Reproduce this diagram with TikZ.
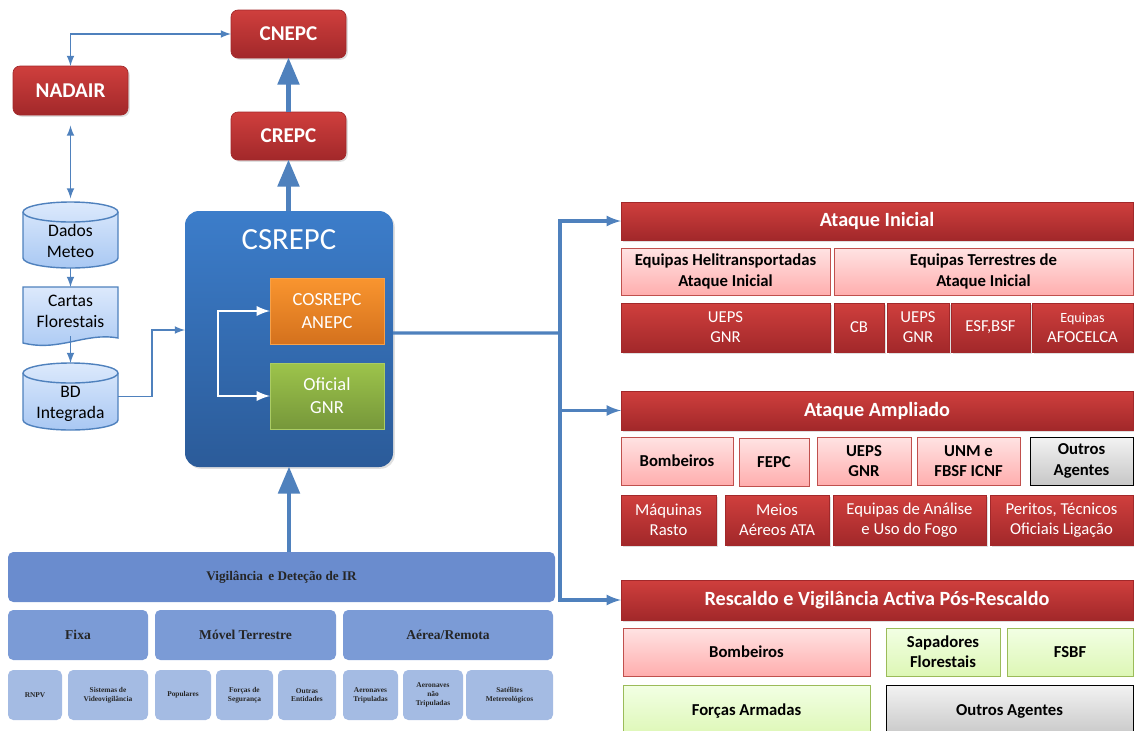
\documentclass[tikz,border=0pt]{standalone}
\usepackage{fontspec}
\setmainfont{Carlito}
\newfontfamily\serifbx{Liberation Serif}
\usepackage{tikz}
\usetikzlibrary{arrows,shadows}

\definecolor{rtop}{HTML}{CF3F3D}
\definecolor{rbot}{HTML}{A2282A}
\definecolor{ptop}{HTML}{FFE3E3}
\definecolor{pbot}{HTML}{FFAEAE}
\definecolor{pline}{HTML}{C0504D}
\definecolor{gtop}{HTML}{F2FFE4}
\definecolor{gbot}{HTML}{DDF7B5}
\definecolor{gline}{HTML}{9BBB59}
\definecolor{linkblue}{HTML}{4F81BD}
\definecolor{cstop}{HTML}{3C7DCA}
\definecolor{csbot}{HTML}{2B5B99}
\definecolor{otop}{HTML}{F9952F}
\definecolor{obot}{HTML}{D4711D}
\definecolor{oline}{HTML}{F6A14A}
\definecolor{ftop}{HTML}{9DC44B}
\definecolor{fbot}{HTML}{76973A}
\definecolor{fline}{HTML}{ABCC64}
\definecolor{dtop}{HTML}{DCE9FC}
\definecolor{dbot}{HTML}{A9C8F3}
\definecolor{vigA}{HTML}{6A8CCE}
\definecolor{vigB}{HTML}{7B9BD6}
\definecolor{vigC}{HTML}{A4BBE3}

% box given by its corners (pixels): style, name, x1, y1, x2, y2, text
\newcommand{\blk}[7]{\node[#1, minimum width={(#5-#3)*0.02cm}, minimum height={(#6-#4)*0.02cm}] (#2) at ({(#3+#5)/2},{(#4+#6)/2}) {#7};}
% database drum in the left column: top, bottom
\newcommand{\drum}[2]{%
  \draw[dbase] (23,#1+10) -- (23,#2-10) arc[start angle=180, end angle=0, x radius=47.5, y radius=10]
    -- (118,#1+10) arc[start angle=0, end angle=-180, x radius=47.5, y radius=10] -- cycle;
  \draw[linkblue, thick] (23,#1+10) arc[start angle=180, end angle=0, x radius=47.5, y radius=10];}

\tikzset{
  box/.style={inner sep=1pt, outer sep=0pt, align=center},
  redbox/.style={box, top color=rtop, bottom color=rbot, draw=rbot, text=white,
    drop shadow={opacity=0.25, shadow xshift=1pt, shadow yshift=-1pt}},
  toporg/.style={redbox, rounded corners=4pt, font=\bfseries\fontsize{12}{14}\selectfont},
  headbox/.style={redbox, font=\bfseries\fontsize{11.5}{13}\selectfont},
  subred/.style={redbox, font=\fontsize{9.5}{11.5}\selectfont},
  pinkbox/.style={box, top color=ptop, bottom color=pbot, draw=pline, text=black,
    font=\bfseries\fontsize{9.5}{11.5}\selectfont},
  greenbox/.style={box, top color=gtop, bottom color=gbot, draw=gline, text=black,
    font=\bfseries\fontsize{9.5}{11.5}\selectfont},
  graybox/.style={box, top color=black!5, bottom color=black!22, draw=black, text=black,
    font=\bfseries\fontsize{9.5}{11.5}\selectfont},
  dbase/.style={draw=linkblue, thick, top color=dtop, bottom color=dbot},
  dtext/.style={align=center, font=\fontsize{10}{12}\selectfont},
  vigbox/.style={box, rounded corners=3pt, text=black!85,
    font=\serifbx\bfseries\fontsize{4.2}{5}\selectfont},
  link/.style={draw=linkblue, line width=1pt, -latex},
  biglink/.style={draw=linkblue, line width=2.6pt, -triangle 45},
  trunk/.style={draw=linkblue, line width=1.8pt}
}

\begin{document}
\begin{tikzpicture}[x=0.02cm, y=-0.02cm]
	\useasboundingbox (0,0) rectangle (1134,731);

	% command chain
	\blk{toporg}{cnepc}{231}{10}{346}{58}{CNEPC}
	\blk{toporg}{nadair}{13}{66}{128}{115}{NADAIR}
	\blk{toporg}{crepc}{231}{112}{346}{160}{CREPC}

	% data sources
	\blk{box}{dados}{23}{202}{118}{268}{}
	\drum{202}{268}
	\node[dtext] (dadostxt) at (70.5,241) {Dados\\Meteo};
	\blk{box}{cartas}{23}{287}{118}{343}{}
	\draw[dbase] (cartas.north west) -- (cartas.north east) -- ([yshift=0.1cm]cartas.south east)
	  .. controls (85,332) and (60,352) .. (cartas.south west) -- cycle;
	\node[dtext] (cartastxt) at (70.5,311) {Cartas\\Florestais};
	\blk{box}{bd}{23}{363}{118}{430}{}
	\drum{363}{430}
	\node[dtext] (bdtxt) at (70.5,404) {BD\\Integrada};

	% CSREPC
	\blk{box, top color=cstop, bottom color=csbot, rounded corners=8pt,
	  drop shadow={opacity=0.25, shadow xshift=1pt, shadow yshift=-1pt}}{cs}{185}{211}{393}{467}{}
	\node[text=white, font=\fontsize{17.5}{20}\selectfont] (cstitle) at (289,240) {CSREPC};
	\blk{box, top color=otop, bottom color=obot, draw=oline,
	  text=white, font=\fontsize{10.5}{13}\selectfont}{cos}{270}{278}{384}{344}{COSREPC\\ANEPC}
	\blk{box, top color=ftop, bottom color=fbot, draw=fline,
	  text=white, font=\fontsize{10.5}{13}\selectfont}{ofi}{270}{363}{384}{429}{Oficial\\GNR}

	% Ataque Inicial
	\blk{headbox}{ai}{621}{202}{1133}{240}{Ataque Inicial}
	\blk{pinkbox}{aih}{621}{248}{830}{295}{Equipas Helitransportadas\\Ataque Inicial}
	\blk{pinkbox}{ait}{834}{248}{1133}{295}{Equipas Terrestres de\\Ataque Inicial}
	\blk{subred}{aiu}{621}{303}{830}{352}{UEPS\\GNR}
	\blk{subred}{aicb}{834}{303}{884}{352}{CB}
	\blk{subred}{aig}{887}{303}{949}{352}{UEPS\\GNR}
	\blk{subred}{aie}{951}{303}{1030}{352}{ESF,BSF}
	\blk{subred}{aiaf}{1032}{303}{1133}{352}{{\fontsize{8}{10}\selectfont Equipas}\\AFOCELCA}

	% Ataque Ampliado
	\blk{headbox}{aa}{621}{391}{1133}{430}{Ataque Ampliado}
	\blk{pinkbox}{aab}{621}{437}{733}{485}{Bombeiros}
	\blk{pinkbox}{aaf}{739}{438}{809}{486}{FEPC}
	\blk{pinkbox}{aau}{817}{437}{911}{485}{UEPS\\GNR}
	\blk{pinkbox}{aan}{917}{437}{1020}{485}{UNM e\\FBSF ICNF}
	\blk{graybox}{aao}{1030}{437}{1133}{485}{Outros\\Agentes}
	\blk{subred}{aam}{621}{495}{716}{545}{Máquinas\\Rasto}
	\blk{subred}{aame}{725}{495}{829}{545}{Meios\\Aéreos ATA}
	\blk{subred}{aaeq}{833}{495}{986}{545}{Equipas de Análise\\e Uso do Fogo}
	\blk{subred}{aap}{990}{495}{1133}{545}{Peritos, Técnicos\\Oficiais Ligação}

	% Rescaldo
	\blk{headbox}{rv}{621}{580}{1133}{620}{Rescaldo e Vigilância Activa Pós-Rescaldo}
	\blk{pinkbox}{rvb}{623}{628}{870}{676}{Bombeiros}
	\blk{greenbox}{rvs}{886}{628}{1000}{676}{Sapadores\\Florestais}
	\blk{greenbox}{rvf}{1007}{628}{1133}{676}{FSBF}
	\blk{greenbox}{rvfa}{623}{685}{870}{737}{Forças Armadas}
	\blk{graybox}{rvo}{886}{685}{1133}{737}{Outros Agentes}

	% Vigilancia
	\blk{vigbox, fill=vigA, font=\serifbx\bfseries\fontsize{7.5}{9}\selectfont}{vig}{8}{552}{555}{602}{Vigilância\, e Deteção de IR}
	\blk{vigbox, fill=vigB, font=\serifbx\bfseries\fontsize{7.7}{9}\selectfont}{fixa}{8}{610}{148}{660}{Fixa}
	\blk{vigbox, fill=vigB, font=\serifbx\bfseries\fontsize{7.7}{9}\selectfont}{movel}{155}{610}{336}{660}{Móvel Terrestre}
	\blk{vigbox, fill=vigB, font=\serifbx\bfseries\fontsize{7.7}{9}\selectfont}{aerea}{343}{610}{553}{660}{Aérea/Remota}
	\blk{vigbox, fill=vigC}{rnpv}{8}{670}{62}{720}{RNPV}
	\blk{vigbox, fill=vigC}{svid}{68}{670}{148}{720}{Sistemas de\\Videovigilância}
	\blk{vigbox, fill=vigC}{pop}{155}{670}{211}{720}{Populares}
	\blk{vigbox, fill=vigC}{fseg}{216}{670}{273}{720}{Forças de\\Segurança}
	\blk{vigbox, fill=vigC}{oent}{278}{670}{336}{720}{Outras\\Entidades}
	\blk{vigbox, fill=vigC}{atrip}{343}{670}{398}{720}{Aeronaves\\Tripuladas}
	\blk{vigbox, fill=vigC}{antrip}{403}{670}{463}{720}{Aeronaves\\não\\Tripuladas}
	\blk{vigbox, fill=vigC}{sat}{466}{670}{553}{720}{Satélites\\Metereológicos}

	% connectors
	\draw[link, latex-latex] (nadair.north) |- (cnepc.west);
	\draw[link, latex-latex, shorten <=6pt, shorten >=2pt] (nadair.south) -- (dados.north);
	\draw[link] (dados.south) -- (cartas.north);
	\draw[link] ([yshift=0.14cm]cartas.south) -- (bd.north);
	\draw[link] (bd.east) -- ++(34,0) |- ([yshift=0.18cm]cs.west);
	\draw[draw=white, line width=1.6pt, latex-latex] (cos.west) -- ++(-52,0) |- (ofi.west);

	\draw[biglink] (cs.north -| crepc.south) -- (crepc.south);
	\draw[biglink] (crepc.north) -- (cnepc.south);
	\draw[biglink] (vig.north -| cs.south) -- (cs.south);

	\coordinate (split) at (560,333);
	\draw[trunk] ([yshift=0.12cm]cs.east) -- (split);
	\draw[trunk, -latex] (split) |- (ai.west);
	\draw[trunk, -latex] (split) |- (aa.west);
	\draw[trunk, -latex] (split) |- (rv.west);
\end{tikzpicture}
\end{document}
